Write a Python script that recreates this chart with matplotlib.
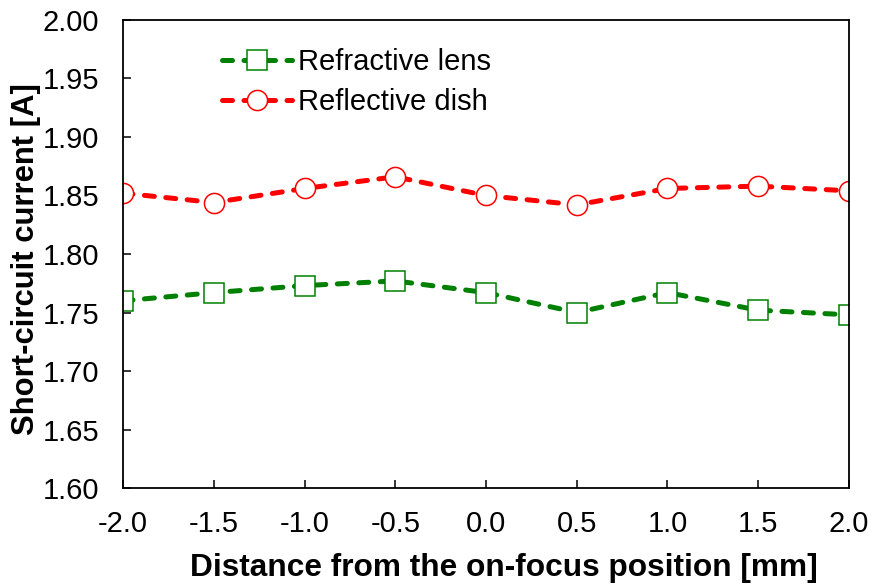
import numpy as np
import matplotlib.pyplot as plt

plt.rcParams['font.family'] = ['Liberation Sans', 'DejaVu Sans']

# offset from focus [mm]
distance = [-2.0, -1.5, -1.0, -0.5, 0.0, 0.5, 1.0, 1.5, 2.0]
# short-circuit current [A]
isc_lens = [1.760, 1.767, 1.773, 1.777, 1.767, 1.750, 1.767, 1.752, 1.748]
isc_dish = [1.852, 1.844, 1.856, 1.866, 1.850, 1.842, 1.856, 1.858, 1.854]

xticks = [-2.0, -1.5, -1.0, -0.5, 0.0, 0.5, 1.0, 1.5, 2.0]
yticks = [1.60, 1.65, 1.70, 1.75, 1.80, 1.85, 1.90, 1.95, 2.00]

fig = plt.figure(figsize=(8.73, 5.86), dpi=100)
ax = fig.add_axes([0.1409, 0.1672, 0.8316, 0.7987])

style = dict(lw=3.6, dashes=(2.0, 2.3), dash_capstyle='round',
             markersize=14.5, markerfacecolor='white', markeredgewidth=1.1)
ax.plot(distance, isc_lens, marker='s', color='#008000',
        label='Refractive lens', **style)
ax.plot(distance, isc_dish, marker='o', color='#ff0000',
        label='Reflective dish', **style)

ax.set_xlim(-2.0, 2.0)
ax.set_ylim(1.60, 2.00)
ax.set_xticks(xticks)
ax.set_xticklabels(['%.1f' % t for t in xticks])
ax.set_yticks(yticks)
ax.set_yticklabels(['%.2f' % t for t in yticks])
ax.tick_params(direction='in', length=6, width=1.1, labelsize=21)
ax.tick_params(axis='y', pad=17)
ax.tick_params(axis='x', pad=16)
for s in ax.spines.values():
    s.set_linewidth(1.3)
    s.set_clip_on(False)

ax.set_xlabel('Distance from the on-focus position [mm]', fontsize=22.8,
              fontweight='bold')
ax.set_ylabel('Short-circuit current [A]', fontsize=22.3, fontweight='bold')
ax.xaxis.set_label_coords(0.524, -0.138)
ax.yaxis.set_label_coords(-0.113, 0.49)

ax.legend(loc='upper left', bbox_to_anchor=(0.1, 0.996), frameon=False,
          fontsize=21, handlelength=2.4, handletextpad=0.2, labelspacing=0.4)

fig.savefig('out.png', dpi=100)
